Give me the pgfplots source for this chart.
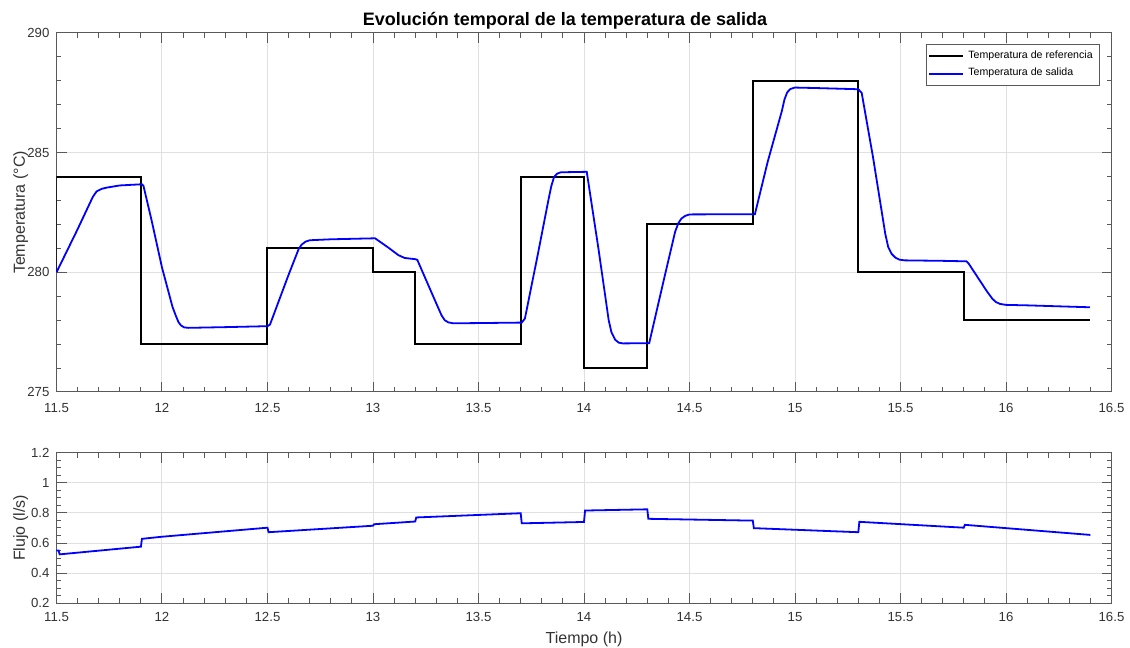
\documentclass[border=0pt]{standalone}
\usepackage{pgfplots}
\pgfplotsset{compat=1.18}
\usepackage{fontspec}
\setmainfont{Liberation Sans}

\definecolor{axgray}{gray}{0.35}
\definecolor{txtgray}{gray}{0.2}
\definecolor{gridgray}{gray}{0.88}

\pgfplotsset{
  matlabstyle/.style={
    scale only axis,
    width=527.5pt,
    xmin=11.5, xmax=16.5,
    xtick={11.5,12,...,16.5},
    minor x tick num=4,
    tick align=inside,
    major tick length=5pt,
    minor tick length=2.5pt,
    axis line style={axgray, line width=0.5pt},
    every tick/.style={axgray, line width=0.5pt},
    grid=major,
    major grid style={gridgray, line width=0.5pt},
    tick label style={font=\fontsize{6.6}{7}\selectfont, text=txtgray},
    label style={font=\fontsize{8}{9}\selectfont, text=txtgray},
    /pgf/number format/assume math mode=true,
    /pgf/number format/.cd, fixed, precision=2, 1000 sep={},
  },
}

\begin{document}
\begin{tikzpicture}
\path[use as bounding box] (0pt,0pt) rectangle (565pt,324pt);

% Temperature panel
\begin{axis}[
  matlabstyle,
  at={(28.25pt,128pt)}, anchor=south west,
  height=179.5pt,
  ymin=275, ymax=290,
  ytick={275,280,285,290},
  minor y tick num=4,
  xticklabel style={yshift=-2pt},
  ylabel={Temperatura (°C)},
  ylabel style={at={(axis description cs:-0.034,0.5)}, anchor=center},
  legend cell align=left,
  legend style={
    at={(1,1)}, anchor=north east, xshift=-6pt, yshift=-5.5pt,
    font=\fontsize{5.3}{6}\selectfont,
    draw=axgray, line width=0.4pt,
    inner sep=1.2pt, row sep=-0.6pt,
  },
  legend image code/.code={\draw[#1] (0pt,0pt) -- (17pt,0pt);},
]
\addplot[black, line width=1pt] coordinates {
  (11.5,280) (11.5,284) (11.9,284) (11.9,277) (12.5,277) (12.5,281)
  (13.0,281) (13.0,280) (13.2,280) (13.2,277) (13.7,277) (13.7,284)
  (14.0,284) (14.0,276) (14.3,276) (14.3,282) (14.8,282) (14.8,288)
  (15.3,288) (15.3,280) (15.8,280) (15.8,278) (16.4,278)
};
\addlegendentry{Temperatura de referencia}
\addplot[blue, line width=0.9pt] coordinates {
  (11.5,280.0) (11.6,281.8) (11.672,283.15) (11.69,283.38) (11.715,283.49)
  (11.738,283.54) (11.80,283.63) (11.905,283.68) (11.912,283.62) (11.95,282.2)
  (12.0,280.2) (12.05,278.55) (12.065,278.2) (12.078,277.92) (12.09,277.78)
  (12.105,277.7) (12.125,277.68) (12.3,277.71) (12.5,277.75) (12.512,277.82)
  (12.6,279.9) (12.648,280.98) (12.662,281.16) (12.68,281.28) (12.70,281.34)
  (12.8,281.38) (13.0,281.42) (13.01,281.42) (13.07,281.05) (13.12,280.72)
  (13.15,280.60) (13.2,280.55) (13.21,280.52) (13.3,278.7) (13.325,278.2)
  (13.34,278.0) (13.357,277.91) (13.38,277.87) (13.5,277.88) (13.705,277.9)
  (13.72,278.07) (13.78,280.7) (13.832,283.05) (13.845,283.6) (13.858,283.98)
  (13.872,284.12) (13.89,284.18) (14.013,284.2) (14.07,280.9) (14.117,278.0)
  (14.13,277.5) (14.148,277.18) (14.165,277.06) (14.185,277.03) (14.309,277.04)
  (14.38,279.75) (14.432,281.7) (14.447,282.05) (14.462,282.25) (14.48,282.36)
  (14.50,282.42) (14.81,282.43) (14.87,284.6) (14.938,286.75) (14.95,287.22)
  (14.963,287.52) (14.978,287.66) (15.0,287.72) (15.1,287.70) (15.30,287.65)
  (15.316,287.5) (15.37,284.8) (15.428,281.6) (15.442,281.05) (15.458,280.77)
  (15.475,280.62) (15.495,280.53) (15.52,280.50) (15.70,280.48) (15.812,280.46)
  (15.822,280.38) (15.91,279.2) (15.935,278.9) (15.952,278.76) (15.972,278.68)
  (16.0,278.64) (16.1,278.62) (16.398,278.54)
};
\addlegendentry{Temperatura de salida}
\end{axis}

% Flow panel
\begin{axis}[
  matlabstyle,
  at={(28.25pt,22.35pt)}, anchor=south west,
  height=75.3pt,
  ymin=0.2, ymax=1.2,
  ytick={0.2,0.4,...,1.21},
  minor y tick num=3,
  xticklabel style={yshift=-1pt},
  xlabel={Tiempo (h)},
  xlabel style={yshift=2pt},
  ylabel={Flujo (l/s)},
  ylabel style={at={(axis description cs:-0.034,0.5)}, anchor=center},
]
\addplot[blue, line width=0.9pt] coordinates {
  (11.5,0.55) (11.51,0.55) (11.515,0.525) (11.9,0.576) (11.905,0.628)
  (12.0,0.642) (12.5,0.702) (12.505,0.672) (13.0,0.715) (13.005,0.725)
  (13.2,0.743) (13.205,0.770) (13.7,0.798) (13.705,0.731) (14.0,0.740)
  (14.005,0.816) (14.3,0.824) (14.305,0.761) (14.8,0.749) (14.805,0.699)
  (15.3,0.672) (15.305,0.741) (15.8,0.702) (15.805,0.721) (16.4,0.654)
};
\end{axis}

\node[font=\bfseries\fontsize{9}{10}\selectfont, text=black] at (282.5pt,313.5pt)
  {Evolución temporal de la temperatura de salida};
\end{tikzpicture}
\end{document}
